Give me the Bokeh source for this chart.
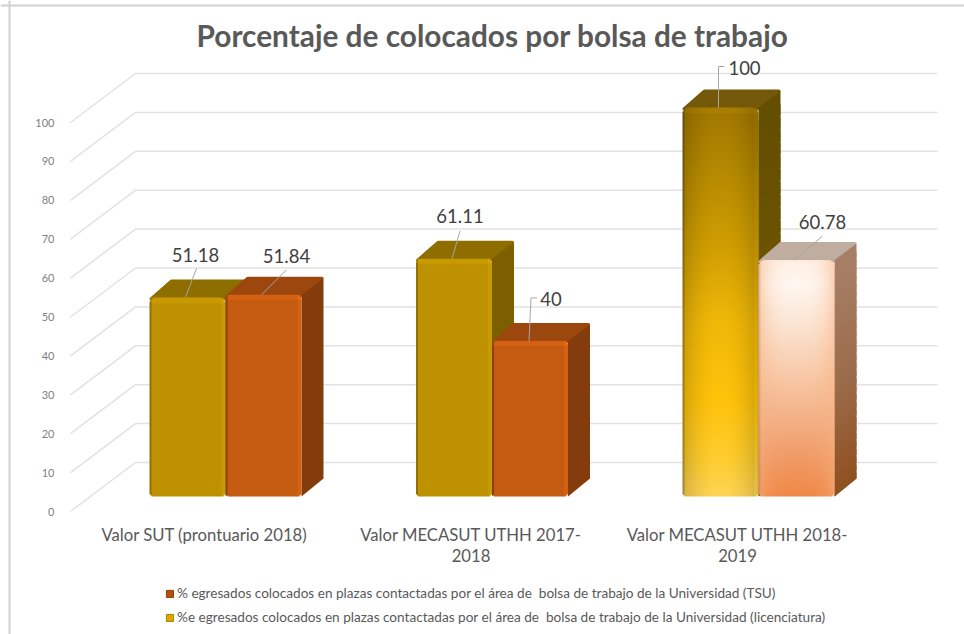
import numpy as np
from bokeh.core.properties import value
from bokeh.embed import file_html
from bokeh.models import (ColumnDataSource, FixedTicker, Legend, LegendItem, LinearAxis, Range1d, Span)
from bokeh.plotting import figure
from bokeh.resources import INLINE

# ---- data ----
title_text = "Porcentaje de colocados por bolsa de trabajo"
categories = ["Valor SUT (prontuario 2018)", "Valor MECASUT UTHH 2017-\n2018", "Valor MECASUT UTHH 2018-\n2019"]
licenciatura = [51.18, 61.11, 100]
tsu = [51.84, 40, 60.78]
licenciatura_labels = ["51.18", "61.11", "100"]
tsu_labels = ["51.84", "40", "60.78"]
y_ticks = [0, 10, 20, 30, 40, 50, 60, 70, 80, 90, 100]
legend_tsu = "% egresados colocados en plazas contactadas por el área de  bolsa de trabajo de la Universidad (TSU)"
legend_lic = "%e egresados colocados en plazas contactadas por el área de  bolsa de trabajo de la Universidad (licenciatura)"

# ---- geometry of the frame (page pixels) and of the fake 3-D projection ----
W, H = 964, 634
PX0, PY0 = 0, 0
XU, YU = 266.5, 3.89          # pixels per category, pixels per percent
X_ORIGIN, Y_ORIGIN = 204, 496  # page pixel of category 0 and of value 0
TICK_Y0 = 511                 # page pixel of tick label "0"
BACK_Y0 = 462                 # page pixel of back-wall line 0
BW = 76 / XU                  # bar width in category units
GROUP_SHIFT = 21 / XU
DX, DY = 22 / XU, 18 / YU     # bar depth
FONT = "Lato"

px_x = lambda px: (px - X_ORIGIN) / XU
px_y = lambda py: (Y_ORIGIN - py) / YU

p = figure(width=W, height=H, toolbar_location=None, output_backend="svg",
           x_range=Range1d(px_x(PX0), px_x(PX0 + W)), y_range=Range1d(px_y(PY0 + H), px_y(PY0)),
           x_axis_type=None, y_axis_type=None,
           min_border=0, min_border_left=0, min_border_right=0, min_border_top=0, min_border_bottom=0)
p.outline_line_color = None
p.background_fill_color = "white"
p.border_fill_color = "white"
p.extra_y_ranges = {"ticks": Range1d((TICK_Y0 - (PY0 + H)) / YU, (TICK_Y0 - PY0) / YU)}

# ---- gridlines on back wall and floor-side wall ----
back_off = (Y_ORIGIN - BACK_Y0) / YU
front_off = (Y_ORIGIN - TICK_Y0) / YU
xs, ys = [], []
for t in y_ticks:
    xs.append([px_x(70), px_x(135), px_x(937)])
    ys.append([t + front_off, t + back_off, t + back_off])
p.multi_line(xs, ys, line_color="#e2e2e2", line_width=1.5)

# ---- chart frame lines ----
p.add_layout(Span(location=px_x(9), dimension="height", line_color="#d0d0d0", line_width=2))
p.add_layout(Span(location=px_y(5), dimension="width", line_color="#d0d0d0", line_width=2))


# ---- face shading ----
def stops_interp(h, stops):
    pos = [s[0] for s in stops]
    return np.stack([np.interp(h, pos, [s[1][c] for s in stops]) for c in range(3)], axis=-1)


def face_image(w, h, base_fn, left, right, top_band):
    yy, xx = np.mgrid[0:h, 0:w]
    u = (xx + 0.5) / w
    v = (yy + 0.5) / h
    rgb = base_fn(u, v, h)
    # top bevel band and side bevels, in pixels from the edge
    from_top = h - 1 - yy
    band = (from_top < 6)[..., None]
    rgb = np.where(band, rgb * top_band, rgb)
    rb = (xx >= w - 4)[..., None]
    rgb = np.where(rb, np.clip(rgb * right, 0, 255), rgb)
    lb = (xx < 2)[..., None]
    rgb = np.where(lb, rgb * left, rgb)
    # rounded corners on top, slight at bottom
    alpha = np.full((h, w), 255, dtype=np.uint32)
    for r, rows in ((4, from_top), (2, yy)):
        for cx, dxs in ((r, r - xx), (w - 1 - r, xx - (w - 1 - r))):
            mask = (rows < r) & (dxs > 0) & (dxs ** 2 + (r - rows) ** 2 > r ** 2)
            alpha[mask] = 0
    rgb = np.clip(rgb, 0, 255).astype(np.uint32)
    return alpha << 24 | rgb[..., 2] << 16 | rgb[..., 1] << 8 | rgb[..., 0]


def flat(col):
    return lambda u, v, h: np.broadcast_to(np.array(col, dtype=float), u.shape + (3,)).copy()


def gold_gradient(u, v, h):
    c = stops_interp(v, [(0, (255, 213, 85)), (0.1, (255, 205, 45)), (0.25, (255, 195, 10)),
                         (0.45, (240, 184, 8)), (0.65, (208, 158, 2)), (0.85, (180, 136, 0)), (1, (160, 120, 0))])
    f = 1 - 0.18 * np.abs(2 * u - 1)[..., None] ** 2.2
    return c * f


def peach_gradient(u, v, h):
    c = stops_interp(v, [(0, (240, 136, 70)), (0.2, (240, 160, 110)), (0.5, (248, 200, 166)),
                         (0.75, (252, 232, 216)), (0.9, (255, 247, 240)), (1, (255, 240, 228))])
    edge = 0.55 * np.abs(2 * u - 1)[..., None] ** 3
    return c * (1 - edge) + np.array((250, 178, 130.0)) * edge


GOLD, GOLD_TOP = (190, 145, 0), "#8f6e00"
ORANGE, ORANGE_TOP = (197, 90, 17), "#9c470e"


def bar_3d(center, val, base_fn, top_col, side_stops, bevel):
    x0, x1 = center - BW / 2, center + BW / 2
    # top face
    inset_x, inset_y = 1.5 / XU, 1.5 / YU
    p.patch([x0 + inset_x, x0 + DX, x1 + DX - inset_x, x1 - inset_x],
            [val - inset_y, val + DY - inset_y, val + DY - inset_y, val - inset_y],
            fill_color=top_col, line_color=top_col, line_width=3, line_join="round")
    # side face, cut into overlapping strips along its height for the gradient
    n = 1 if side_stops[0][1] == side_stops[-1][1] else 30
    edges = np.linspace(0, val, n + 1)
    sx, sy, sc = [], [], []
    for i in range(n):
        low = edges[max(i - 1, 0)]
        sx.append([x1, x1 + DX, x1 + DX, x1])
        sy.append([low, low + DY, edges[i + 1] + DY - inset_y, edges[i + 1]])
        rgb = stops_interp(np.array([(i + .5) / n]), side_stops)[0].astype(int)
        sc.append("#%02x%02x%02x" % tuple(rgb))
    p.patches(sx, sy, fill_color=sc, line_color=None)
    # front face
    w, h = int(round(BW * XU)), int(round(val * YU))
    img = face_image(w, h, base_fn, *bevel)
    p.image_rgba(image=[img], x=x0, y=0, dw=BW, dh=val)


gold_side = [(0, (124, 96, 0)), (1, (124, 96, 0))]
orange_side = [(0, (132, 60, 12)), (1, (132, 60, 12))]
gold_bevel = (0.78, 1.06, 1.06)
orange_bevel = (0.72, 1.08, 1.08)

centers = [i + GROUP_SHIFT for i in range(len(categories))]

# legend swatch renderers, fully covered by the faces
lic_q = p.quad(left=[c - BW + 3 / XU for c in centers], right=[c - 3 / XU for c in centers],
               bottom=[1] * 3, top=[v - 2 for v in licenciatura], fill_color="#dba800", line_color="#a88400")
tsu_q = p.quad(left=[c + 3 / XU for c in centers], right=[c + BW - 3 / XU for c in centers],
               bottom=[1] * 3, top=[v - 2 for v in tsu], fill_color="#b5500f", line_color="#8a3f0d")

for i, c in enumerate(centers):
    if i < 2:
        lic_fn, lic_top, lic_side = flat(GOLD), GOLD_TOP, gold_side
        tsu_fn, tsu_top, tsu_side = flat(ORANGE), ORANGE_TOP, orange_side
        tb = orange_bevel
    else:
        lic_fn, lic_top, lic_side = gold_gradient, "#75590a", [(0, (120, 94, 0)), (1, (100, 78, 0))]
        tsu_fn, tsu_top, tsu_side = peach_gradient, "#bfae9f", [(0, (143, 78, 28)), (0.5, (156, 108, 76)), (1, (168, 128, 104))]
        tb = (0.9, 1.0, 1.0)
    bar_3d(c - BW / 2, licenciatura[i], lic_fn, lic_top, lic_side, gold_bevel)
    bar_3d(c + BW / 2, tsu[i], tsu_fn, tsu_top, tsu_side, tb)

# ---- data labels with leader lines ----
bar_x = [centers[i] + s * BW / 2 for i in range(3) for s in (-1, 1)]
bar_v = [v for pair in zip(licenciatura, tsu) for v in pair]
bar_txt = [t for pair in zip(licenciatura_labels, tsu_labels) for t in pair]
anchor_dx = [-2, -2, -2, -1, -2, -2]
leader_pts = [[(11, -29)], [(25, -25)], [(8, -28)], [(2, -43), (8, -43)], [(0, -41), (6, -41)], [(28, -24)]]
text_off = [(10, -42), (25, -39), (8, -43), (22, -42), (26, -40), (28, -38)]

lx, ly = [], []
tx, ty, tox, toy = [], [], [], []
for x, v, a, pts, off in zip(bar_x, bar_v, anchor_dx, leader_pts, text_off):
    ax = x + a / XU
    lx.append([ax] + [ax + q[0] / XU for q in pts])
    ly.append([v] + [v - q[1] / YU for q in pts])
    tx.append(ax)
    ty.append(v)
    tox.append(off[0])
    toy.append(off[1])
p.multi_line(lx, ly, line_color="#a6a6a6", line_width=1)
lab_src = ColumnDataSource(dict(x=tx, y=ty, t=bar_txt, xo=tox, yo=toy))
p.text("x", "y", text="t", source=lab_src, x_offset="xo", y_offset="yo", text_align="center",
       text_baseline="middle", text_color="#404040", text_font=value(FONT), text_font_size=value("18.5px"))

# ---- title ----
p.text([px_x(492)], [px_y(35)], text=[title_text], text_align="center", text_baseline="middle",
       text_color="#595959", text_font=value(FONT), text_font_style="bold", text_font_size=value("29.8px"))

# ---- axes ----
yax = LinearAxis(y_range_name="ticks", ticker=FixedTicker(ticks=y_ticks), fixed_location=px_x(66),
                 axis_line_color=None, major_tick_line_color=None, minor_tick_line_color=None,
                 major_label_text_color="#7f7f7f", major_label_text_font=FONT,
                 major_label_text_font_size="11px", major_label_standoff=6)
p.add_layout(yax, "left")

xax = LinearAxis(ticker=FixedTicker(ticks=list(range(len(categories)))), fixed_location=px_y(518),
                 major_label_overrides={i: c for i, c in enumerate(categories)},
                 axis_line_color=None, major_tick_line_color=None, minor_tick_line_color=None,
                 major_label_text_color="#595959", major_label_text_font=FONT,
                 major_label_text_font_size="16.7px", major_label_standoff=0,
                 major_label_text_line_height=1.05)
p.add_layout(xax, "below")

# ---- legend ----
legend = Legend(items=[LegendItem(label=legend_tsu, renderers=[tsu_q]),
                       LegendItem(label=legend_lic, renderers=[lic_q])],
                location=(165, 9), orientation="vertical", background_fill_alpha=0, border_line_color=None,
                padding=0, margin=0, spacing=8, glyph_width=9, glyph_height=9, label_standoff=3,
                label_text_font=FONT, label_text_font_size="13.6px", label_text_color="#595959")
p.add_layout(legend, "center")

open("out.html", "w").write(file_html(p, INLINE))
